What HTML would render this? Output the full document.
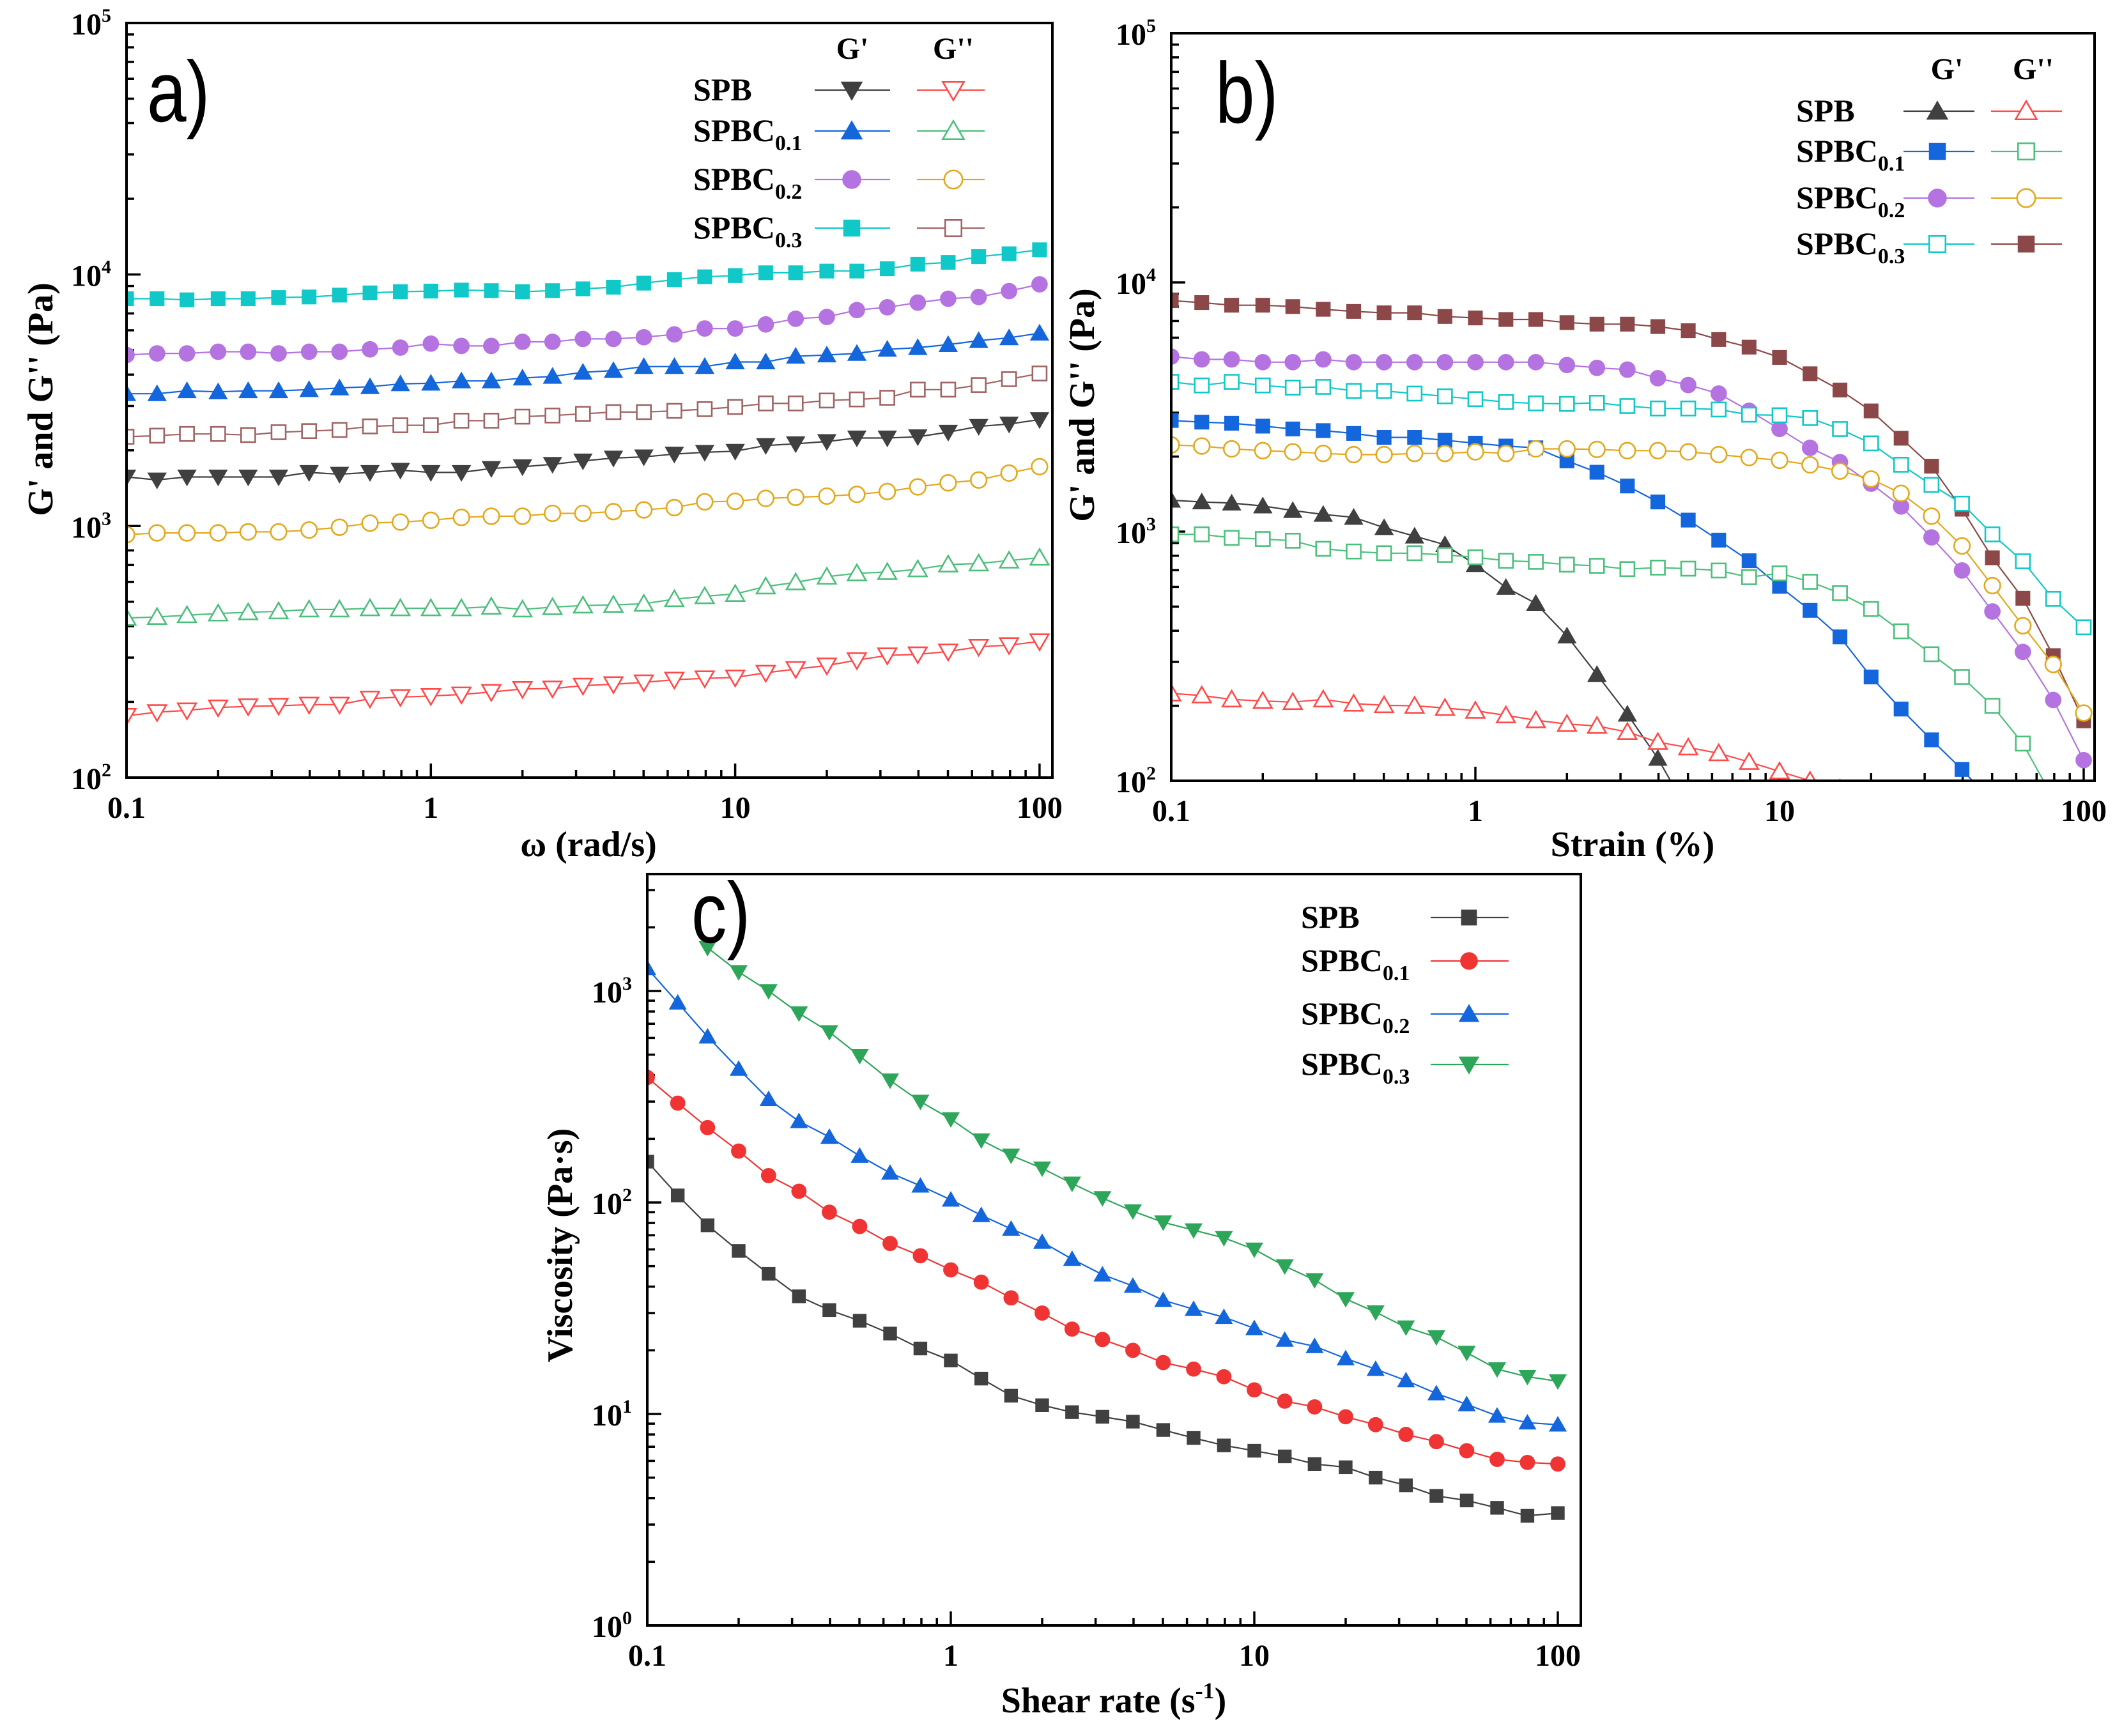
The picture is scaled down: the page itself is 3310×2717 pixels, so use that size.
<!DOCTYPE html>
<html><head><meta charset="utf-8"><style>
html,body{margin:0;padding:0;background:#fff;}
svg{display:block;}
text{font-family:"Liberation Serif",serif;font-weight:bold;fill:#000;}
</style></head><body>
<svg id="fig" xmlns="http://www.w3.org/2000/svg" width="3310" height="2717" viewBox="0 0 3310 2717">
<rect width="3310" height="2717" fill="#fff"/>
</svg>
<script>
// shared x grid (10 points per decade)
const xVals = [0.1,0.126,0.158,0.2,0.251,0.316,0.398,0.501,0.631,0.794,1,1.26,1.58,2,2.51,3.16,3.98,5.01,6.31,7.94,10,12.6,15.8,20,25.1,31.6,39.8,50.1,63.1,79.4,100];
const xTickLabels = ["0.1","1","10","100"];

// Panel a: frequency sweep
const aSPB_Gp   = [1567,1525,1567,1567,1567,1567,1633,1607,1633,1667,1633,1633,1694,1721,1759,1815,1863,1883,1932,1964,1983,2090,2123,2168,2239,2239,2264,2361,2490,2543,2650];
const aSPB_Gpp  = [176,182,185,190,192,193,195,195,206,209,211,214,219,225,226,232,235,239,245,248,250,261,270,279,293,306,309,317,331,336,348];
const aC1_Gp    = [3357,3357,3450,3415,3450,3450,3485,3540,3580,3675,3695,3775,3775,3875,3935,4085,4150,4305,4305,4305,4490,4490,4730,4785,4855,5040,5120,5260,5460,5600,5845];
const aC1_Gpp   = [431,435,442,449,454,458,466,466,471,471,471,471,478,466,476,483,486,491,512,526,537,575,597,629,649,656,673,703,710,729,748];
const aC2_Gp    = [4785,4855,4855,4930,4930,4855,4930,4930,5040,5120,5310,5200,5200,5400,5400,5545,5545,5630,5780,6100,6100,6330,6670,6780,7220,7410,7730,8010,8140,8590,9140];
const aC2_Gpp   = [924,939,939,939,948,948,964,989,1027,1037,1054,1082,1094,1094,1123,1123,1141,1159,1184,1248,1254,1288,1301,1315,1336,1371,1431,1485,1524,1624,1722];
const aC3_Gp    = [8010,8010,7930,8010,8010,8100,8140,8280,8450,8540,8590,8670,8630,8540,8630,8770,8900,9240,9540,9790,9900,10160,10160,10320,10320,10540,10990,11170,11780,12090,12540];
const aC3_Gpp   = [2265,2287,2323,2323,2300,2360,2385,2410,2490,2515,2515,2623,2623,2722,2750,2793,2838,2838,2870,2915,2975,3072,3072,3155,3187,3235,3485,3485,3635,3835,4040];

// Panel b: strain sweep
const bSPB_Gp   = [1336,1315,1301,1267,1215,1172,1141,1037,959,886,737,597,515,381,267,185,123,75,48,32,22,15,10,7,5,4,3,2.5,2,1.6,1.3];
const bSPB_Gpp  = [224,220,212,209,207,212,204,201,200,196,191,183,175,169,166,157,143,136,129,119,109,100,93,87,81,76,71,66,62,58,54];
const bC1_Gp    = [2793,2750,2722,2650,2582,2543,2477,2388,2388,2325,2264,2205,2169,1922,1731,1524,1315,1112,924,764,603,483,378,261,194,146,111,82,60,44,33];
const bC1_Gpp   = [975,975,944,934,919,853,832,819,819,806,789,764,756,737,729,707,717,710,698,656,680,629,566,489,398,322,261,200,141,85,55];
const bC2_Gp    = [5040,4910,4910,4785,4785,4910,4785,4785,4785,4785,4785,4785,4785,4660,4540,4467,4127,3874,3580,3055,2582,2169,1901,1557,1261,948,698,478,329,211,121];
const bC2_Gpp   = [2227,2205,2148,2113,2090,2059,2037,2037,2059,2059,2090,2059,2148,2148,2137,2113,2113,2090,2037,1983,1932,1853,1750,1625,1424,1153,876,607,419,293,187];
const bC3_Gp    = [3990,3860,3990,3860,3780,3810,3670,3670,3580,3490,3400,3310,3270,3255,3290,3190,3120,3120,3090,2945,2930,2855,2580,2260,1855,1540,1295,975,760,537,413];
const bC3_Gpp   = [8450,8300,8100,8100,8000,7800,7650,7550,7550,7300,7200,7100,7100,6900,6800,6800,6650,6400,5900,5500,5000,4300,3700,3050,2370,1830,1230,785,540,318,174];

// Panel c: flow curves
const cSPB  = [156,108,78,59,46,36,31,27.6,24,20.4,17.9,14.7,12.2,11,10.2,9.7,9.2,8.4,7.7,7.1,6.7,6.3,5.8,5.6,5.0,4.6,4.1,3.9,3.6,3.3,3.4];
const cC1   = [390,295,226,175,134,113,90,77,64,56,48,42,35.4,30,25.2,22.5,20,17.5,16.3,15,13,11.5,10.8,9.7,8.9,8.0,7.4,6.7,6.1,5.9,5.8];
const cC2   = [1280,880,608,428,308,242,204,166,138,120,103,87,75,65,54,45.6,40.3,34.5,31.3,28.7,25.4,22.4,20.9,18.3,16.3,14.4,12.5,11.1,9.8,9.1,8.9];
const cC3   = [4500,null,1600,1230,1000,785,640,493,378,300,248,197,167,145,123,105,91,80.6,74,68,60,50,43,35,30.3,25.7,23.1,19.5,16.3,15,14.3];

const NS = "http://www.w3.org/2000/svg";
const svg = document.getElementById('fig');
function mk(tag, attrs, parent){
  const e = document.createElementNS(NS, tag);
  for (const k in attrs) e.setAttribute(k, attrs[k]);
  (parent||svg).appendChild(e);
  return e;
}

function marker(g, type, filled, color, cx, cy, s){
  const fill = filled ? color : '#fff';
  let e;
  const r = s/2;
  if (type === 'circle') e = mk('circle',{cx:cx,cy:cy,r:r*0.95,fill:fill,stroke:color,'stroke-width':filled?1:2.6},g);
  else if (type === 'square') e = mk('rect',{x:cx-r*0.85,y:cy-r*0.85,width:r*1.7,height:r*1.7,fill:fill,stroke:color,'stroke-width':filled?1:2.6},g);
  else if (type === 'utri') e = mk('polygon',{points:`${cx},${cy-r*1.05} ${cx+r*1.1},${cy+r*0.85} ${cx-r*1.1},${cy+r*0.85}`,fill:fill,stroke:color,'stroke-width':filled?1:2.6},g);
  else e = mk('polygon',{points:`${cx},${cy+r*1.05} ${cx+r*1.1},${cy-r*0.85} ${cx-r*1.1},${cy-r*0.85}`,fill:fill,stroke:color,'stroke-width':filled?1:2.6},g);
  return e;
}

function panel(cfg){
  const g = mk('g',{});
  
  
  const X = v => cfg.x0 + (Math.log10(v) - Math.log10(0.1)) * cfg.dec;
  const Y = v => cfg.yb - (Math.log10(v) - cfg.ymin) * cfg.ydec;
  const L = cfg.L, R = cfg.R, T = cfg.T, B = cfg.B;
  const cid = cfg.name + '-clip';
  const defs = mk('defs',{},g);
  const cp = mk('clipPath',{id:cid},defs);
  mk('rect',{x:L,y:T,width:R-L,height:B-T},cp);

  const tg = mk('g',{stroke:'#000','stroke-width':3.5},g);
  
  
  for (let d = -1; d <= 2; d++) {
    for (let m = 1; m <= 9; m++) {
      const v = m * Math.pow(10, d);
      if (v > 100.001) continue;
      const x = X(v);
      if (x > R) continue;
      mk('line',{x1:x,y1:B,x2:x,y2:B-(m===1?22:12)},tg);
    }
  }
  for (let d = cfg.ymin; d <= cfg.ymax; d++) {
    for (let m = 1; m <= 9; m++) {
      const v = m * Math.pow(10, d);
      const y = Y(v);
      if (y < T - 0.5) continue;
      mk('line',{x1:L,y1:y,x2:L+(m===1?22:12),y2:y},tg);
    }
  }
  xTickLabels.forEach(t => {
    const tx = mk('text',{x:X(parseFloat(t)),y:B+63,'text-anchor':'middle','font-size':48},g);
    
    
    tx.textContent = t;
  });
  for (let d = cfg.ymin; d <= cfg.ymax; d++) {
    const y = Y(Math.pow(10,d));
    if (y < T - 30) continue;
    const tx = mk('text',{x:L-24,y:y+18,'text-anchor':'end','font-size':48},g);
    
    
    tx.textContent = '10';
    const sp = mk('tspan',{'font-size':30,dy:-20},tx);
    sp.textContent = String(d);
  }
  const sg = mk('g',{'clip-path':`url(#${cid})`},g);
  cfg.series.forEach(s => {
    const grp = mk('g',{},sg);
    
    
    let d = '';
    let pen = false;
    s.data.forEach((v,i) => {
      if (v === null) { pen = false; return; }
      d += (pen ? 'L' : 'M') + X(xVals[i]).toFixed(1) + ',' + Y(v).toFixed(1);
      pen = true;
    });
    const p = mk('path',{d:d,fill:'none',stroke:s.color,'stroke-width':2.2},grp);
    
    
    s.data.forEach((v,i) => {
      if (v === null) return;
      const m = marker(grp, s.type, s.filled, s.color, X(xVals[i]), Y(v), cfg.ms);
      
      
    });
  });
  const fr = mk('rect',{x:L,y:T,width:R-L,height:B-T,fill:'none',stroke:'#000','stroke-width':4},g);
  
  
  const pl = mk('text',{x:0,y:0,'font-size':135,transform:`translate(${cfg.letter[1]},${cfg.letter[2]}) scale(0.82,1)`,style:'font-family:"Liberation Sans",sans-serif;font-weight:normal'},g);
  
  
  pl.textContent = cfg.letter[0];
  const xt = mk('text',{x:cfg.xt[1],y:cfg.xt[2],'text-anchor':'middle','font-size':56},g);
  
  
  xt.textContent = cfg.xt[0];
  if (cfg.xtSup) { const s2 = mk('tspan',{'font-size':36,dy:-22},xt); s2.textContent = cfg.xtSup; const s3 = mk('tspan',{dy:22},xt); s3.textContent = ')'; }
  const yt = mk('text',{x:0,y:0,'text-anchor':'middle','font-size':56,transform:`translate(${cfg.yt[1]},${cfg.yt[2]}) rotate(-90)`},g);
  
  
  yt.textContent = cfg.yt[0];
  const lg = mk('g',{},g);
  
  
  if (cfg.leg.heads) cfg.leg.heads.forEach(h => { const t = mk('text',{x:h[1],y:h[2],'text-anchor':'middle','font-size':48},lg); t.textContent = h[0]; });
  cfg.leg.rows.forEach((r,i) => {
    const y = cfg.leg.ys[i];
    const t = mk('text',{x:cfg.leg.tx,y:y+16,'font-size':50},lg);
    
    
    t.textContent = r.label;
    if (r.sub) { const s = mk('tspan',{'font-size':34,dy:14},t); s.textContent = r.sub; }
    r.sym.forEach((sy,j) => {
      const c = cfg.leg.cols[j];
      mk('line',{x1:c[0],y1:y,x2:c[2],y2:y,stroke:sy.color,'stroke-width':2.2},lg);
      marker(lg, sy.type, sy.filled, sy.color, c[1], y, cfg.ms+4);
    });
  });
}

const K='#404040', RD='#ff4a4a', BL='#1466dc', GN='#4cbf7c', PU='#b473e0', YE='#e3a81c', CY='#10c8c8', BR='#8c4848', BRo='#a06464';

panel({name:'panel-a', L:198, R:1647, T:36, B:1217, x0:198, dec:476.3, yb:1217, ymin:2, ymax:5, ydec:393.7, ms:26,
  letter:['a)',230,190], xt:['ω (rad/s)',921,1340], yt:["G' and G'' (Pa)",82,625],
  series:[
    {id:'a-spbc03-gp',data:aC3_Gp,type:'square',filled:true,color:CY},
    {id:'a-spbc02-gp',data:aC2_Gp,type:'circle',filled:true,color:PU},
    {id:'a-spbc01-gp',data:aC1_Gp,type:'utri',filled:true,color:BL},
    {id:'a-spbc03-gpp',data:aC3_Gpp,type:'square',filled:false,color:BRo},
    {id:'a-spb-gp',data:aSPB_Gp,type:'dtri',filled:true,color:K},
    {id:'a-spbc02-gpp',data:aC2_Gpp,type:'circle',filled:false,color:YE},
    {id:'a-spbc01-gpp',data:aC1_Gpp,type:'utri',filled:false,color:GN},
    {id:'a-spb-gpp',data:aSPB_Gpp,type:'dtri',filled:false,color:RD}],
  leg:{tx:1085, ys:[141,205,281,357], heads:[["G'",1334,92],["G''",1492,92]], cols:[[1275,1333,1393],[1435,1492,1541]],
    rows:[{label:'SPB',sym:[{type:'dtri',filled:true,color:K},{type:'dtri',filled:false,color:RD}]},
          {label:'SPBC',sub:'0.1',sym:[{type:'utri',filled:true,color:BL},{type:'utri',filled:false,color:GN}]},
          {label:'SPBC',sub:'0.2',sym:[{type:'circle',filled:true,color:PU},{type:'circle',filled:false,color:YE}]},
          {label:'SPBC',sub:'0.3',sym:[{type:'square',filled:true,color:CY},{type:'square',filled:false,color:BRo}]}]}
});

panel({name:'panel-b', L:1833, R:3278, T:52, B:1222, x0:1833, dec:476, yb:1222, ymin:2, ymax:5, ydec:390, ms:26,
  letter:['b)',1902,192], xt:['Strain (%)',2555,1340], yt:["G' and G'' (Pa)",1712,634],
  series:[
    {id:'b-spbc03-gpp',data:bC3_Gpp,type:'square',filled:true,color:BR},
    {id:'b-spbc02-gp',data:bC2_Gp,type:'circle',filled:true,color:PU},
    {id:'b-spbc03-gp',data:bC3_Gp,type:'square',filled:false,color:CY},
    {id:'b-spbc01-gp',data:bC1_Gp,type:'square',filled:true,color:BL},
    {id:'b-spbc02-gpp',data:bC2_Gpp,type:'circle',filled:false,color:YE},
    {id:'b-spb-gp',data:bSPB_Gp,type:'utri',filled:true,color:K},
    {id:'b-spbc01-gpp',data:bC1_Gpp,type:'square',filled:false,color:GN},
    {id:'b-spb-gpp',data:bSPB_Gpp,type:'utri',filled:false,color:RD}],
  leg:{tx:2811, ys:[174,237,310,382], heads:[["G'",3047,124],["G''",3182,124]], cols:[[2979,3032,3090],[3116,3171,3227]],
    rows:[{label:'SPB',sym:[{type:'utri',filled:true,color:K},{type:'utri',filled:false,color:RD}]},
          {label:'SPBC',sub:'0.1',sym:[{type:'square',filled:true,color:BL},{type:'square',filled:false,color:GN}]},
          {label:'SPBC',sub:'0.2',sym:[{type:'circle',filled:true,color:PU},{type:'circle',filled:false,color:YE}]},
          {label:'SPBC',sub:'0.3',sym:[{type:'square',filled:false,color:CY},{type:'square',filled:true,color:BR}]}]}
});

panel({name:'panel-c', L:1013, R:2474, T:1368, B:2544, x0:1013, dec:475, yb:2544, ymin:0, ymax:3, ydec:331, ms:24,
  letter:['c)',1082,1475], xt:['Shear rate (s',1743,2680], xtSup:'-1', yt:['Viscosity (Pa·s)',895,1949],
  series:[
    {id:'c-spbc03',data:cC3,type:'dtri',filled:true,color:'#2ea65a'},
    {id:'c-spbc02',data:cC2,type:'utri',filled:true,color:BL},
    {id:'c-spbc01',data:cC1,type:'circle',filled:true,color:'#f03434'},
    {id:'c-spb',data:cSPB,type:'square',filled:true,color:K}],
  leg:{tx:2036, ys:[1436,1504,1587,1666], cols:[[2239,2299,2361]],
    rows:[{label:'SPB',sym:[{type:'square',filled:true,color:K}]},
          {label:'SPBC',sub:'0.1',sym:[{type:'circle',filled:true,color:'#f03434'}]},
          {label:'SPBC',sub:'0.2',sym:[{type:'utri',filled:true,color:BL}]},
          {label:'SPBC',sub:'0.3',sym:[{type:'dtri',filled:true,color:'#2ea65a'}]}]}
});
</script>
</body></html>
